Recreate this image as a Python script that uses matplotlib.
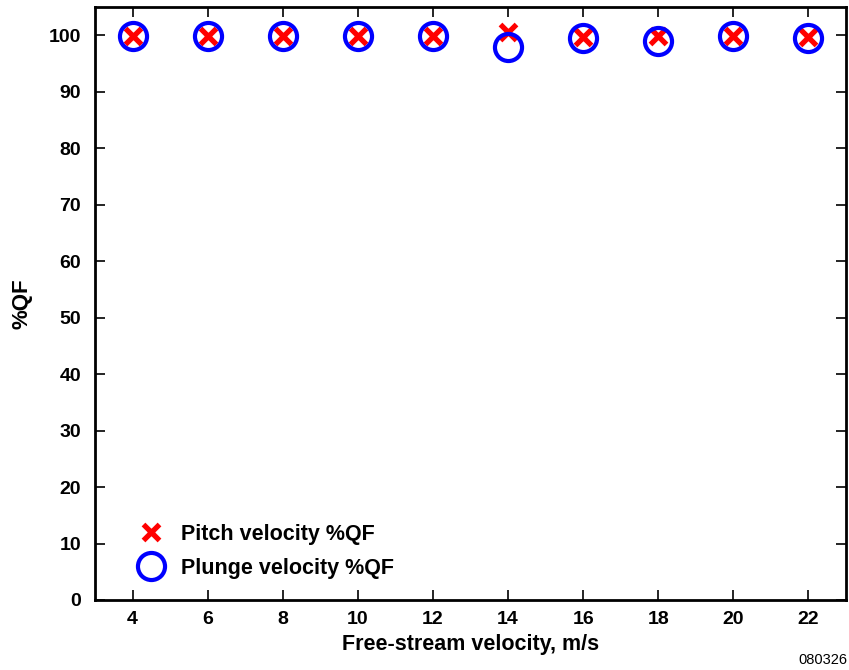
import numpy as np
import matplotlib.pyplot as plt

plt.rcParams['font.family'] = ['Liberation Sans', 'DejaVu Sans']
plt.rcParams['font.weight'] = 'bold'

speed = [4, 6, 8, 10, 12, 14, 16, 18, 20, 22]
pitch_qf = [99.8, 99.8, 99.8, 99.8, 99.8, 100.5, 99.7, 99.8, 99.8, 99.7]
plunge_qf = [99.9, 99.9, 99.9, 99.9, 99.9, 98.0, 99.6, 99.0, 99.9, 99.6]

fig = plt.figure(figsize=(8.49, 6.7), dpi=100)
ax = fig.add_axes([0.112, 0.1045, 0.8845, 0.885])

ax.plot(speed, pitch_qf, ls='none', marker='x', color='red', ms=11.5, mew=3.8,
        label='Pitch velocity %QF', zorder=3)
ax.plot(speed, plunge_qf, ls='none', marker='o', mfc='none', mec='blue', ms=19.5, mew=3.0,
        label='Plunge velocity %QF', zorder=4)

ax.set_xlim(3, 23)
ax.set_ylim(0, 105)
ax.set_xticks(speed)
ax.set_yticks(np.arange(0, 101, 10))
ax.tick_params(direction='in', length=7, width=1.2, top=True, right=True, labelsize=14)
ax.tick_params(axis='x', pad=8)
ax.tick_params(axis='y', pad=10)
for s in ax.spines.values():
    s.set_linewidth(2)

ax.set_xlabel('Free-stream velocity, m/s', fontsize=15.5, fontweight='bold', labelpad=4)
ax.set_ylabel('%QF', fontsize=16, fontweight='bold', labelpad=12)

ax.legend(loc='lower left', bbox_to_anchor=(0.04, 0.0214), frameon=False, fontsize=15.5,
          handlelength=1.6, handletextpad=0.6, labelspacing=0.59, borderaxespad=0)

fig.text(0.998, 0.005, '080326', ha='right', va='bottom', fontsize=10.5, fontweight='normal')

fig.savefig('out.png', dpi=100)
